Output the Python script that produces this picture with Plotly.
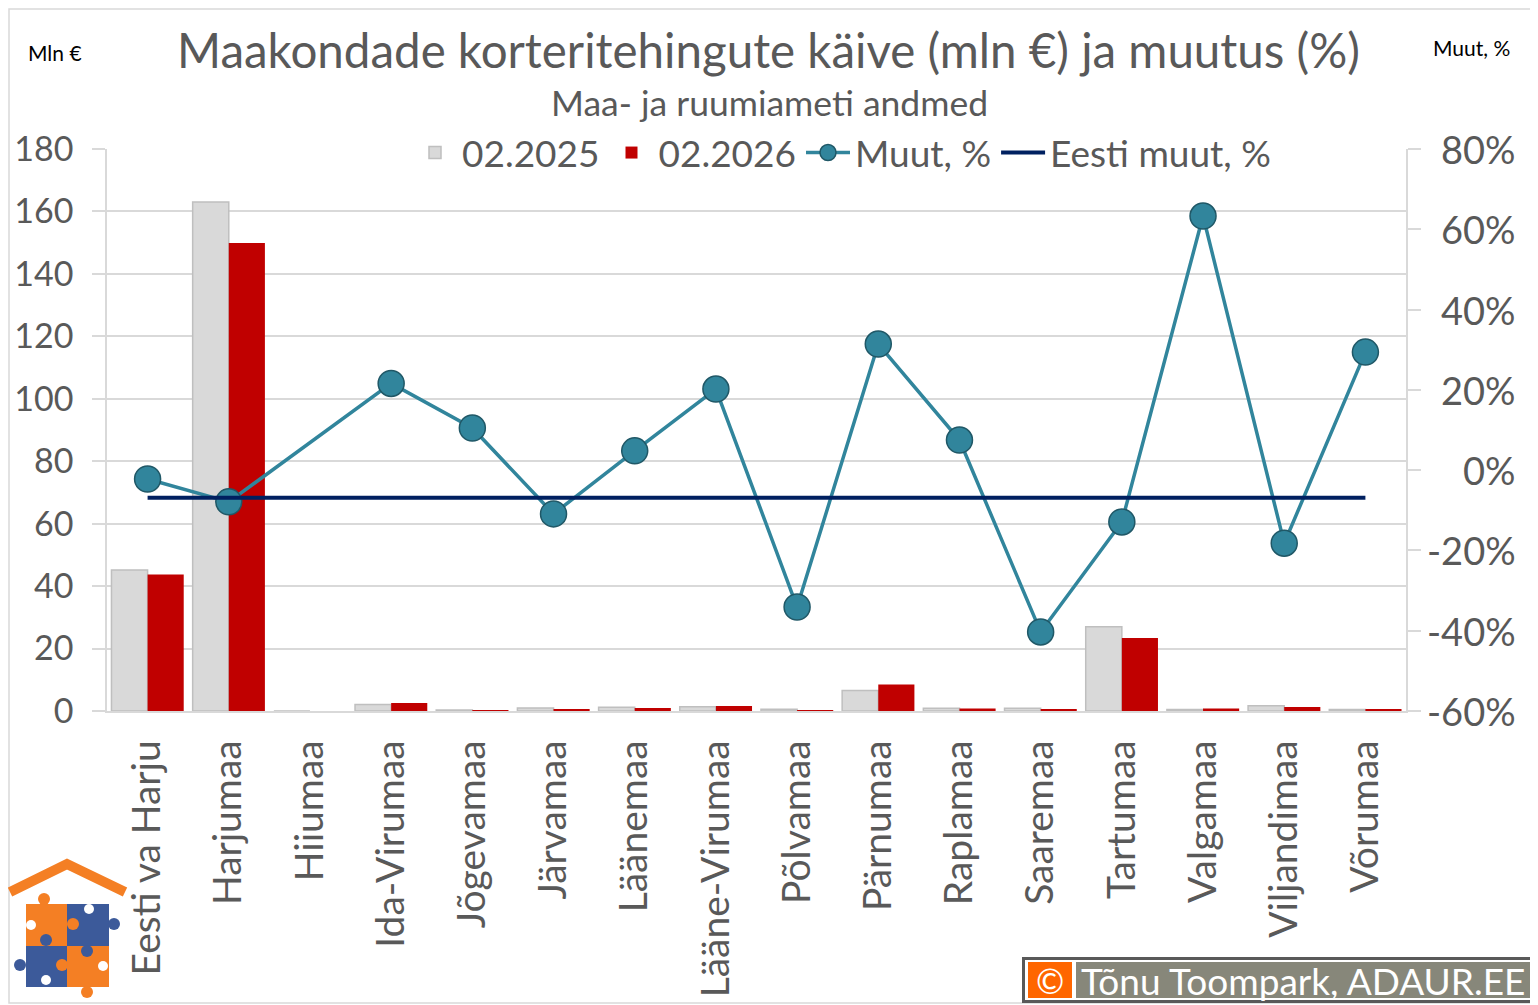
import plotly.graph_objects as go

categories = ["Eesti va Harju", "Harjumaa", "Hiiumaa", "Ida-Virumaa", "Jõgevamaa", "Järvamaa",
              "Läänemaa", "Lääne-Virumaa", "Põlvamaa", "Pärnumaa", "Raplamaa", "Saaremaa",
              "Tartumaa", "Valgamaa", "Viljandimaa", "Võrumaa"]
kaive_2025 = [45.2, 163.0, 0.0, 2.1, 0.35, 0.95, 1.2, 1.35, 0.55, 6.6, 0.85, 0.85, 27.0, 0.5, 1.7, 0.5]
kaive_2026 = [43.7, 149.9, 0.0, 2.6, 0.2, 0.65, 1.0, 1.6, 0.3, 8.5, 0.8, 0.45, 23.4, 0.8, 1.3, 0.35]
muut_pct = [-2.2, -7.9, None, 21.6, 10.5, -10.9, 4.8, 20.2, -34.1, 31.4, 7.5, -40.3, -12.9, 63.3, -18.2, 29.4]
eesti_muut_pct = -6.9

left_ticks = [0, 20, 40, 60, 80, 100, 120, 140, 160, 180]
right_ticks = [-60, -40, -20, 0, 20, 40, 60, 80]
right_ticktext = ["-60%", "-40%", "-20%", "0%", "20%", "40%", "60%", "80%"]

FONT = "Lato"
TXT = "#595959"
GRID = "#D9D9D9"

# page offset (body margin) and figure size
OFF = 8
W, H = 1538 - OFF, 1005 - OFF
# plot area in page pixels
PL, PR, PT, PB = 107, 1406, 149, 711
PW, PH = PR - PL, PB - PT


def px(x):
    return (x - PL) / PW


def py(y):
    return (PB - y) / PH


fig = go.Figure()
fig.add_trace(go.Bar(x=categories, y=kaive_2025, name="02.2025",
                     marker=dict(color="#D9D9D9", line=dict(color="#BFBFBF", width=1.5))))
fig.add_trace(go.Bar(x=categories, y=kaive_2026, name="02.2026",
                     marker=dict(color="#C00000", line=dict(width=0))))
fig.add_trace(go.Scatter(x=categories, y=muut_pct, name="Muut, %", yaxis="y2",
                         mode="lines+markers", connectgaps=True,
                         line=dict(color="#31859C", width=3.5),
                         marker=dict(size=26, color="#31859C", line=dict(color="#205867", width=1.5))))
fig.add_trace(go.Scatter(x=categories, y=[eesti_muut_pct] * len(categories), name="Eesti muut, %",
                         yaxis="y2", mode="lines", line=dict(color="#002060", width=4)))

fig.update_layout(
    width=W, height=H,
    margin=dict(l=PL - OFF, r=W - (PR - OFF), t=PT - OFF, b=H - (PB - OFF), autoexpand=False),
    paper_bgcolor="white", plot_bgcolor="white",
    font=dict(family=FONT, color=TXT),
    barmode="group", bargap=0.11, bargroupgap=0,
    showlegend=True,
    legend=dict(orientation="h", x=px(842), xanchor="center", y=py(153), yanchor="middle",
                bgcolor="rgba(0,0,0,0)", font=dict(size=37, color=TXT),
                itemwidth=44, tracegroupgap=0, traceorder="normal"),
    xaxis=dict(type="category", range=[-0.5, len(categories) - 0.5], showline=True,
               linecolor=GRID, linewidth=1.5,
               tickangle=-90, tickfont=dict(size=39, color=TXT), ticks="",
               ticklabelstandoff=12, showgrid=False),
    yaxis=dict(range=[0, 180], tickvals=left_ticks, showgrid=True, gridcolor=GRID, gridwidth=1.5,
               showline=True, linecolor=GRID, linewidth=1.5, ticks="outside", ticklen=13,
               tickcolor=GRID, tickwidth=1.5, tickfont=dict(size=34, color=TXT),
               ticklabelstandoff=12, zeroline=False),
    yaxis2=dict(range=[-60, 80], tickvals=right_ticks, showticklabels=False, overlaying="y",
                side="right", showgrid=False, showline=True, linecolor=GRID, linewidth=1.5,
                ticks="outside", ticklen=13, tickcolor=GRID, tickwidth=1.5, zeroline=False),
)

# right-aligned tick labels for the secondary axis
for v, t in zip(right_ticks, right_ticktext):
    fig.add_annotation(text=t, x=px(1518), y=v, xref="paper", yref="y2", showarrow=False,
                       xanchor="right", yanchor="middle", font=dict(size=38, color=TXT, family=FONT))

annotations = [
    ("Maakondade korteritehingute käive (mln €) ja muutus (%)", 768, 50, 47.5, TXT),
    ("Maa- ja ruumiameti andmed", 769, 102, 35.5, TXT),
    ("Mln €", 55, 52, 21, "black"),
    ("Muut, %", 1471, 47, 21, "black"),
    ("©", 1050, 980, 34, "white"),
    ("Tõnu Toompark, ADAUR.EE", 1303, 980, 37, "white"),
]
for text, x, y, size, color in annotations:
    fig.add_annotation(text=text, x=px(x), y=py(y), xref="paper", yref="paper",
                       showarrow=False, xanchor="center", yanchor="middle",
                       font=dict(size=size, color=color, family=FONT))


def rect(x0, y0, x1, y1, fill, line=None, lw=0, layer="above"):
    fig.add_shape(type="rect", xref="paper", yref="paper",
                  x0=px(x0), x1=px(x1), y0=py(y1), y1=py(y0),
                  fillcolor=fill, line=dict(color=line or fill, width=lw), layer=layer)


def circ(cx, cy, r, fill):
    fig.add_shape(type="circle", xref="paper", yref="paper",
                  x0=px(cx - r), x1=px(cx + r), y0=py(cy + r), y1=py(cy - r),
                  fillcolor=fill, line=dict(width=0), layer="above")


# chart border
fig.add_shape(type="rect", xref="paper", yref="paper", x0=px(9), x1=px(1536),
              y0=py(1003), y1=py(9), line=dict(color="#D9D9D9", width=1.5),
              fillcolor="rgba(0,0,0,0)", layer="below")

# logo
ORANGE, BLUE = "#F47F24", "#3C5A9A"
rect(26, 904, 67, 946, ORANGE)
rect(67, 904, 109, 946, BLUE)
rect(26, 946, 67, 987, BLUE)
rect(67, 946, 109, 987, ORANGE)
circ(44, 899, 6, ORANGE)
circ(31, 925, 5, "white")
circ(73, 924, 6, ORANGE)
circ(89, 909, 5, "white")
circ(114, 924, 6, BLUE)
circ(46, 940, 6, BLUE)
circ(20, 965, 6, BLUE)
circ(62, 965, 6, ORANGE)
circ(46, 980, 5, "white")
circ(87, 951, 6, BLUE)
circ(103, 966, 5, "white")
circ(87, 992, 6, ORANGE)
fig.add_shape(type="path", xref="paper", yref="paper",
              path="M {:.5f},{:.5f} L {:.5f},{:.5f} L {:.5f},{:.5f}".format(
                  px(10), py(892), px(67), py(864), px(125), py(892)),
              line=dict(color=ORANGE, width=10), layer="above")

# copyright box
rect(1022, 957, 1535, 1003, "#595959")
rect(1025, 960, 1532, 1000, "white")
rect(1028, 962, 1072, 998, "#FF6600")
rect(1076, 962, 1530, 998, "#87877A")

fig.write_html("out.html")
